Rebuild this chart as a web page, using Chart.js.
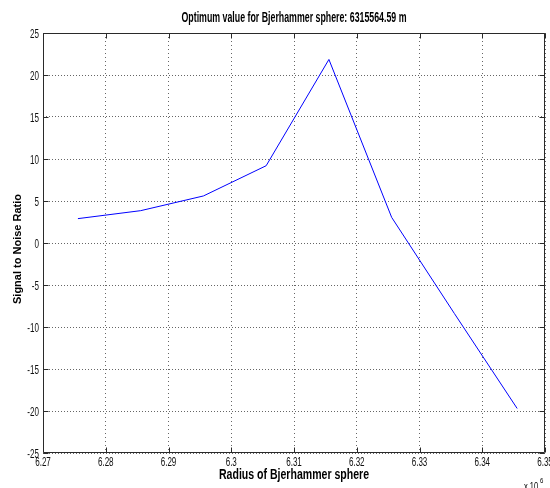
<!DOCTYPE html>
<html><head><meta charset="utf-8">
<script src="https://cdn.jsdelivr.net/npm/chart.js@4"></script>
<style>html,body{margin:0;padding:0;background:#fff}</style>
</head><body>
<canvas id="c" width="550" height="488"></canvas>
<script>
// ---- data ----
const radius = [6275564.59, 6285564.59, 6295564.59, 6305564.59, 6315564.59, 6325564.59, 6335564.59, 6345564.59];
const snr = [2.9, 3.85, 5.6, 9.2, 21.85, 3.05, -8.4, -19.7];
const chartTitle = 'Optimum value for Bjerhammer sphere: 6315564.59 m';
const xTitle = 'Radius of Bjerhammer sphere';
const yTitle = 'Signal to Noise Ratio';
const xRange = [6270000, 6350000];
const xStep = 10000;
const yRange = [-25, 25];
const yStep = 5;
const xExponentText = 'x 10';
const xExponent = '6';

const SANS = '"Liberation Sans", Arial, sans-serif';

function condensedText(ctx, text, x, y, align, font, targetWidth, sx) {
  ctx.save();
  ctx.font = font;
  let s = sx;
  if (targetWidth) s = targetWidth / ctx.measureText(text).width;
  ctx.translate(x, y);
  ctx.scale(s, 1);
  ctx.textAlign = align;
  ctx.fillText(text, 0, 0);
  ctx.restore();
}

const xLabel = v => String(+(v / 1e6).toFixed(2));

const framePlugin = {
  id: 'matlabFrame',
  afterDraw(chart) {
    const ctx = chart.ctx;
    const a = chart.chartArea;
    const xs = chart.scales.x, ys = chart.scales.y;
    const L = Math.round(a.left) + 0.5, R = Math.round(a.right) - 0.5;
    const T = Math.round(a.top) + 0.5, B = Math.round(a.bottom) - 0.5;
    ctx.save();
    ctx.strokeStyle = '#2a2a2a';
    ctx.lineWidth = 1;
    ctx.setLineDash([]);
    ctx.beginPath();
    ctx.rect(L, T, R - L, B - T);
    ctx.stroke();
    // inner tick marks
    const tl = 5;
    ctx.beginPath();
    xs.ticks.forEach(t => {
      const px = Math.round(xs.getPixelForValue(t.value)) + 0.5;
      ctx.moveTo(px, B); ctx.lineTo(px, B - tl);
      ctx.moveTo(px, T); ctx.lineTo(px, T + tl);
    });
    ys.ticks.forEach(t => {
      const py = Math.round(ys.getPixelForValue(t.value)) + 0.5;
      ctx.moveTo(L, py); ctx.lineTo(L + tl, py);
      ctx.moveTo(R, py); ctx.lineTo(R - tl, py);
    });
    ctx.stroke();
    // tick labels (positions from the library's scales)
    ctx.fillStyle = '#111';
    ctx.textBaseline = 'alphabetic';
    const tf = '13px ' + SANS;
    xs.ticks.forEach(t => {
      condensedText(ctx, xLabel(t.value), xs.getPixelForValue(t.value), a.bottom + 13, 'center', tf, 0, 0.62);
    });
    ys.ticks.forEach(t => {
      condensedText(ctx, String(t.value), a.left - 4, ys.getPixelForValue(t.value) + 5, 'right', tf, 0, 0.62);
    });
    // title
    ctx.fillStyle = '#000';
    condensedText(ctx, chartTitle, (a.left + a.right) / 2, 22, 'center', 'bold 14px ' + SANS, 225, 0);
    // x axis title
    condensedText(ctx, xTitle, (a.left + a.right) / 2, 479, 'center', 'bold 14px ' + SANS, 150, 0);
    // y axis title (not condensed)
    ctx.save();
    ctx.translate(21, 249);
    ctx.rotate(-Math.PI / 2);
    ctx.font = 'bold 11px ' + SANS;
    ctx.textAlign = 'center';
    ctx.textBaseline = 'alphabetic';
    ctx.fillText(yTitle, 0, 0);
    ctx.restore();
    // exponent
    condensedText(ctx, xExponentText, 524, 490, 'left', '10px ' + SANS, 0, 0.75);
    condensedText(ctx, xExponent, 540, 483, 'left', '8px ' + SANS, 0, 0.75);
    ctx.restore();
  }
};

new Chart(document.getElementById('c'), {
  type: 'line',
  data: {
    datasets: [{
      data: radius.map((r, i) => ({x: r, y: snr[i]})),
      borderColor: 'rgb(0,0,255)',
      borderWidth: 1,
      pointRadius: 0,
      tension: 0,
      fill: false
    }]
  },
  options: {
    responsive: false,
    animation: false,
    devicePixelRatio: 1,
    layout: {padding: {top: 33, right: 5, left: 0, bottom: 0}},
    plugins: {legend: {display: false}, title: {display: false}, tooltip: {enabled: false}},
    scales: {
      x: {
        type: 'linear',
        min: xRange[0], max: xRange[1],
        afterFit(s) { s.height = 35; s.paddingLeft = 0; s.paddingRight = 0; },
        ticks: {stepSize: xStep, autoSkip: false, display: false},
        grid: {color: '#666', lineWidth: 1, drawTicks: false, drawOnChartArea: true},
        border: {display: false, dash: [1, 3]},
        title: {display: false, text: xTitle}
      },
      y: {
        type: 'linear',
        min: yRange[0], max: yRange[1],
        afterFit(s) { s.width = 43; s.paddingTop = 0; s.paddingBottom = 0; },
        ticks: {stepSize: yStep, autoSkip: false, display: false},
        grid: {color: '#666', lineWidth: 1, drawTicks: false, drawOnChartArea: true},
        border: {display: false, dash: [1, 2]},
        title: {display: false, text: yTitle}
      }
    }
  },
  plugins: [framePlugin]
});
</script>
</body></html>
